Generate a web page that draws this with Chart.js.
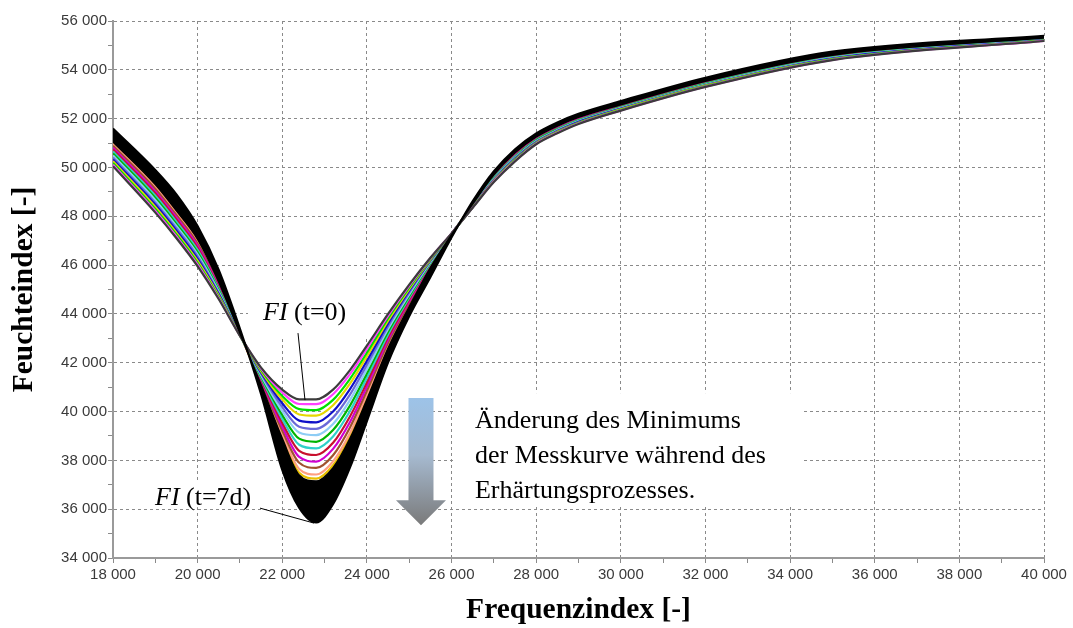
<!DOCTYPE html>
<html>
<head>
<meta charset="utf-8">
<script src="https://cdn.jsdelivr.net/npm/chart.js@4.4.1/dist/chart.umd.min.js"></script>
<style>
  html, body { margin: 0; padding: 0; background: #fff; }
  #wrap { width: 1073px; height: 628px; position: relative; }
</style>
</head>
<body>
<div id="wrap"><canvas id="chart"></canvas></div>
<script>
// Frequency index samples (x) shared by every measured curve
const freqIndex = [18000, 19000, 19500, 20000, 20500, 21000, 21500, 22000, 22400, 22800, 23200, 23600, 24000, 24500,
                   25000, 25500, 26000, 26500, 27000, 27500, 28000, 28500, 29000, 30000, 32000, 35000, 40000];

// Coloured curves, from FI (t=0) downwards to the last coloured one
const curveT00 = [50050, 48150, 47100, 45950, 44600, 43100, 41800, 40900, 40500, 40500, 40900, 41700, 42700, 44000, 45200, 46300, 47300, 48350, 49400, 50250, 50950, 51400, 51780, 52330, 53300, 54400, 55180];
const curveT01 = [50110, 48220, 47170, 46020, 44640, 43110, 41760, 40780, 40310, 40300, 40710, 41530, 42570, 43920, 45150, 46280, 47300, 48360, 49420, 50270, 50970, 51420, 51800, 52340, 53310, 54410, 55190];
const curveT02 = [50180, 48300, 47250, 46090, 44690, 43110, 41710, 40640, 40100, 40060, 40480, 41340, 42410, 43820, 45080, 46250, 47290, 48370, 49440, 50300, 50990, 51440, 51820, 52360, 53330, 54430, 55200];
const curveT03 = [50250, 48380, 47320, 46170, 44740, 43120, 41660, 40500, 39880, 39830, 40260, 41140, 42260, 43720, 45020, 46220, 47290, 48380, 49460, 50320, 51010, 51460, 51830, 52380, 53350, 54440, 55200];
const curveT04 = [50330, 48470, 47410, 46260, 44800, 43130, 41600, 40340, 39630, 39560, 40000, 40920, 42080, 43610, 44950, 46190, 47290, 48390, 49480, 50350, 51030, 51480, 51860, 52400, 53360, 54460, 55210];
const curveT05 = [50410, 48560, 47500, 46350, 44850, 43140, 41550, 40180, 39380, 39290, 39750, 40690, 41910, 43500, 44880, 46160, 47280, 48400, 49510, 50380, 51060, 51510, 51880, 52420, 53380, 54470, 55220];
const curveT06 = [50490, 48660, 47590, 46430, 44910, 43140, 41490, 40020, 39140, 39030, 39490, 40470, 41730, 43380, 44800, 46120, 47280, 48420, 49530, 50400, 51080, 51530, 51900, 52440, 53400, 54490, 55230];
const curveT07 = [50570, 48750, 47680, 46520, 44960, 43150, 41440, 39860, 38890, 38760, 39240, 40240, 41560, 43270, 44730, 46090, 47270, 48430, 49560, 50430, 51110, 51560, 51920, 52460, 53420, 54500, 55240];
const curveT08 = [50650, 48840, 47770, 46610, 45020, 43160, 41380, 39700, 38640, 38490, 38980, 40020, 41380, 43160, 44660, 46060, 47270, 48440, 49580, 50460, 51130, 51580, 51940, 52470, 53440, 54520, 55250];
const curveT09 = [50730, 48930, 47860, 46700, 45080, 43170, 41320, 39540, 38390, 38220, 38720, 39800, 41200, 43050, 44590, 46030, 47270, 48450, 49600, 50490, 51150, 51600, 51960, 52490, 53460, 54540, 55260];
const curveT10 = [50810, 49020, 47950, 46790, 45130, 43180, 41270, 39380, 38140, 37950, 38470, 39570, 41030, 42940, 44520, 46000, 47260, 48460, 49630, 50520, 51180, 51630, 51990, 52510, 53480, 54550, 55270];
const curveT11 = [50890, 49120, 48040, 46870, 45190, 43180, 41210, 39220, 37900, 37690, 38210, 39350, 40850, 42820, 44440, 45960, 47260, 48480, 49650, 50540, 51200, 51650, 52010, 52530, 53490, 54570, 55280];
const curveT12 = [50970, 49210, 48130, 46960, 45240, 43190, 41160, 39060, 37650, 37420, 37960, 39120, 40680, 42710, 44370, 45930, 47250, 48490, 49680, 50570, 51230, 51680, 52030, 52550, 53510, 54580, 55290];
const curveT13 = [51020, 49270, 48190, 47020, 45280, 43200, 41120, 38960, 37490, 37250, 37800, 38980, 40570, 42640, 44330, 45910, 47250, 48500, 49690, 50590, 51240, 51690, 52040, 52560, 53520, 54590, 55300];

// Black band: upper edge of the black bundle and FI (t=7d)
const curveBlackTop = [51050, 49300, 48220, 47050, 45300, 43200, 41100, 38900, 37400, 37150, 37700, 38900, 40500, 42600, 44300, 45900, 47250, 48500, 49700, 50600, 51250, 51700, 52050, 52570, 53530, 54600, 55300];
const curveT7d = [51600, 49900, 48900, 47600, 45800, 43400, 40700, 37600, 36050, 35450, 36200, 37700, 39600, 42000, 43900, 45500, 47130, 48620, 49850, 50750, 51400, 51850, 52200, 52720, 53680, 54750, 55400];

const colouredCurves = [curveT00, curveT01, curveT02, curveT03, curveT04, curveT05, curveT06,
                        curveT07, curveT08, curveT09, curveT10, curveT11, curveT12, curveT13];
const curveColors = ['#3c3c3c', '#ff40ff', '#00e000', '#e6d800', '#1010c8', '#6a6ad8', '#8ecdf5',
                     '#00b400', '#2fd0c8', '#c8102e', '#d000d0', '#a0522d', '#ff9f80', '#e8c000'];

// Annotation text
const noteLines = ['Änderung des Minimums', 'der Messkurve während des', 'Erhärtungsprozesses.'];

const sansFont = "'Liberation Sans', Arial, sans-serif";
const serifFont = "'Liberation Serif', 'Times New Roman', serif";

function fmt(v) {
    return String(v).replace(/\B(?=(\d{3})+(?!\d))/g, ' ');
}

function toPoints(values) {
    return freqIndex.map((x, i) => ({ x: x, y: values[i] }));
}

const datasets = [];
colouredCurves.forEach((c, i) => {
    datasets.push({
        label: 'c' + i,
        data: toPoints(c),
        borderColor: curveColors[i],
        borderWidth: 2.2,
        pointRadius: 0,
        cubicInterpolationMode: 'monotone',
        fill: false,
        order: 2
    });
});
const blackTopIndex = datasets.length;
datasets.push({
    label: 'black top',
    data: toPoints(curveBlackTop),
    borderColor: '#000',
    borderWidth: 1.5,
    pointRadius: 0,
    cubicInterpolationMode: 'monotone',
    fill: { target: blackTopIndex + 1 },
    backgroundColor: '#000',
    order: 1
});
datasets.push({
    label: 'FI (t=7d)',
    data: toPoints(curveT7d),
    borderColor: '#000',
    borderWidth: 2,
    pointRadius: 0,
    cubicInterpolationMode: 'monotone',
    fill: false,
    order: 1
});

// Annotation anchors, in data units
const whiteBoxes = [
    { x1: 21190, x2: 24070, y1: 45390, y2: 43050 },
    { x1: 18875, x2: 21355, y1: 37108, y2: 36083 },
    { x1: 26034, x2: 34281, y1: 40755, y2: 36125 }
];
const labelT0 = { x: 21545, y: 43747, lineFrom: [22372, 43214], lineTo: [22537, 40468] };
const labelT7 = { x: 18993, y: 36166, lineFrom: [21474, 36043], lineTo: [22750, 35430] };
const noteAnchor = { x: 26554, y: [39321, 37887, 36453] };
const arrowAnchor = { x: 25278, top: 40550, headBase: 36370, tip: 35346 };

const annotationPlugin = {
    id: 'annotations',
    beforeDatasetsDraw(chart) {
        const { ctx, scales: { x, y } } = chart;
        ctx.save();
        ctx.fillStyle = '#fff';
        whiteBoxes.forEach(b => {
            const x1 = x.getPixelForValue(b.x1), x2 = x.getPixelForValue(b.x2);
            const y1 = y.getPixelForValue(b.y1), y2 = y.getPixelForValue(b.y2);
            ctx.fillRect(x1, y1, x2 - x1, y2 - y1);
        });
        ctx.restore();
    },
    afterDatasetsDraw(chart) {
        const { ctx, scales: { x, y } } = chart;
        ctx.save();

        // pointer lines
        ctx.strokeStyle = '#000';
        ctx.lineWidth = 1;
        [labelT0, labelT7].forEach(l => {
            ctx.beginPath();
            ctx.moveTo(x.getPixelForValue(l.lineFrom[0]), y.getPixelForValue(l.lineFrom[1]));
            ctx.lineTo(x.getPixelForValue(l.lineTo[0]), y.getPixelForValue(l.lineTo[1]));
            ctx.stroke();
        });

        // FI labels: italic symbol + upright time
        ctx.fillStyle = '#000';
        ctx.textBaseline = 'alphabetic';
        ctx.textAlign = 'left';
        [[labelT0, '(t=0)'], [labelT7, '(t=7d)']].forEach(([l, txt]) => {
            const px = x.getPixelForValue(l.x), py = y.getPixelForValue(l.y);
            ctx.font = 'italic 26px ' + serifFont;
            ctx.fillText('FI', px, py);
            const w = ctx.measureText('FI ').width;
            ctx.font = '26px ' + serifFont;
            ctx.fillText(txt, px + w, py);
        });

        // descriptive note
        ctx.font = '26px ' + serifFont;
        noteLines.forEach((line, i) => {
            ctx.fillText(line, x.getPixelForValue(noteAnchor.x), y.getPixelForValue(noteAnchor.y[i]));
        });

        // gradient arrow pointing down
        const ax = x.getPixelForValue(arrowAnchor.x);
        const aTop = y.getPixelForValue(arrowAnchor.top);
        const aBase = y.getPixelForValue(arrowAnchor.headBase);
        const aTip = y.getPixelForValue(arrowAnchor.tip);
        const grad = ctx.createLinearGradient(0, aTop, 0, aTip);
        grad.addColorStop(0, '#9dc3e8');
        grad.addColorStop(0.45, '#a6bad0');
        grad.addColorStop(1, '#7a7a7a');
        ctx.fillStyle = grad;
        ctx.beginPath();
        ctx.moveTo(ax - 12.5, aTop);
        ctx.lineTo(ax + 12.5, aTop);
        ctx.lineTo(ax + 12.5, aBase);
        ctx.lineTo(ax + 25, aBase);
        ctx.lineTo(ax, aTip);
        ctx.lineTo(ax - 25, aBase);
        ctx.lineTo(ax - 12.5, aBase);
        ctx.closePath();
        ctx.fill();

        ctx.restore();
    }
};

function gridColor(c) {
    return c.tick && c.tick.value % 2000 === 0 ? '#8a8a8a' : 'rgba(0,0,0,0)';
}

const ctx = document.getElementById('chart').getContext('2d');
new Chart(ctx, {
    type: 'line',
    data: { datasets: datasets },
    options: {
        responsive: true,
        maintainAspectRatio: false,
        animation: false,
        devicePixelRatio: 1,
        layout: { padding: { left: 0, right: 29, top: 21, bottom: 0 } },
        plugins: {
            legend: { display: false },
            tooltip: { enabled: false }
        },
        scales: {
            x: {
                type: 'linear',
                min: 18000,
                max: 40000,
                ticks: {
                    stepSize: 1000,
                    autoSkip: false,
                    maxRotation: 0,
                    padding: 3,
                    color: '#3a3a3a',
                    font: { family: sansFont, size: 15 },
                    callback: v => (v % 2000 === 0 ? fmt(v) : '')
                },
                grid: { color: gridColor, lineWidth: 1, tickColor: '#8a8a8a', tickLength: 5 },
                border: { display: true, color: '#9a9a9a', width: 2, dash: [3, 3] },
                title: {
                    display: true,
                    text: 'Frequenzindex [-]',
                    color: '#000',
                    font: { family: serifFont, size: 29.5, weight: 'bold' },
                    padding: { top: 0, bottom: 0 }
                },
                afterFit: s => { s.height = 70; }
            },
            y: {
                min: 34000,
                max: 56000,
                ticks: {
                    stepSize: 1000,
                    autoSkip: false,
                    padding: 1,
                    color: '#3a3a3a',
                    font: { family: sansFont, size: 15 },
                    callback: v => (v % 2000 === 0 ? fmt(v) : '')
                },
                grid: { color: gridColor, lineWidth: 1, tickColor: '#8a8a8a', tickLength: 5 },
                border: { display: true, color: '#9a9a9a', width: 2, dash: [3, 3] },
                title: {
                    display: true,
                    text: 'Feuchteindex [-]',
                    color: '#000',
                    font: { family: serifFont, size: 29.5, weight: 'bold' },
                    padding: { top: 7, bottom: 0 }
                },
                afterFit: s => { s.width = 113; }
            }
        }
    },
    plugins: [annotationPlugin]
});
</script>
</body>
</html>
